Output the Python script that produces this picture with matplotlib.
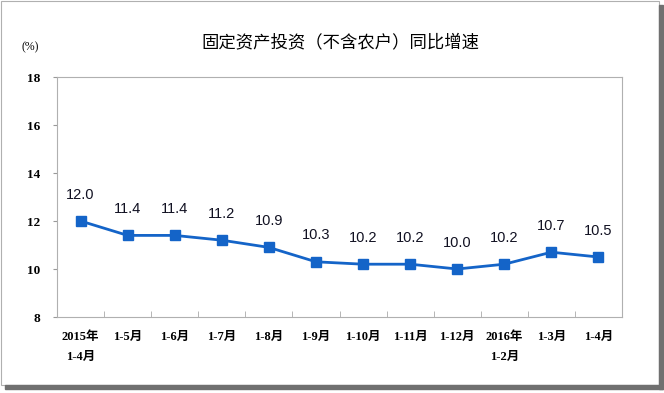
import matplotlib.pyplot as plt
from matplotlib.patches import Rectangle

plt.rcParams['font.family'] = ['Liberation Serif', 'Noto Sans CJK SC', 'DejaVu Sans']

# 数据
categories = ["2015年\n1-4月", "1-5月", "1-6月", "1-7月", "1-8月", "1-9月",
              "1-10月", "1-11月", "1-12月", "2016年\n1-2月", "1-3月", "1-4月"]
growth = [12.0, 11.4, 11.4, 11.2, 10.9, 10.3, 10.2, 10.2, 10.0, 10.2, 10.7, 10.5]
y_ticks = [8, 10, 12, 14, 16, 18]

fig = plt.figure(figsize=(6.64, 3.93), dpi=100)
ax = fig.add_axes([57 / 664, 1 - 317 / 393, 565 / 664, 240 / 393])

x = list(range(len(categories)))
ax.plot(x, growth, color="#1464c8", linewidth=2,
        marker="s", markersize=7, markerfacecolor="#1464c8",
        markeredgecolor="#1464c8")

for xi, v in zip(x, growth):
    ax.annotate(f"{v:.1f}", (xi, v), xytext=(0, 14), textcoords="offset points",
                ha="center", va="bottom", fontsize=10.5,
                family=["Liberation Sans"], color="#111122")

ax.set_xlim(-0.5, len(categories) - 0.5)
ax.set_ylim(8, 18)
ax.set_yticks(y_ticks)
ax.set_yticklabels([str(t) for t in y_ticks], fontsize=9.5, fontweight="bold")
ax.set_xticks(x)
ax.set_xticklabels(categories, fontsize=9, fontweight="bold",
                   linespacing=1.9, va="top")
ax.tick_params(axis="x", length=0, pad=10)
ax.tick_params(axis="y", length=3, color="#999999", pad=9, direction="out")

# 类别分隔刻度
ax.set_xticks([i - 0.5 for i in range(1, len(categories))], minor=True)
ax.tick_params(axis="x", which="minor", length=4, direction="in", color="#aaaaaa")

for s in ax.spines.values():
    s.set_color("#b0b0b0")
    s.set_linewidth(0.8)

fig.text(340 / 664, 1 - 42 / 393, "固定资产投资（不含农户）同比增速",
         ha="center", va="center", fontsize=12.5, family=["Noto Sans CJK SC"])
fig.text(30 / 664, 1 - 47 / 393, "(%)", ha="center", va="center", fontsize=8.5)

# 外框
fig.patches.append(Rectangle((1 / 664, 8 / 393), 658 / 664, 384 / 393,
                             transform=fig.transFigure, fill=False,
                             edgecolor="#b0b0b0", linewidth=0.8))
fig.patches.append(Rectangle((659 / 664, 4 / 393), 4 / 664, 384 / 393,
                             transform=fig.transFigure, color="#707070"))
fig.patches.append(Rectangle((5 / 664, 4 / 393), 658 / 664, 4 / 393,
                             transform=fig.transFigure, color="#707070"))

fig.savefig("out.png", dpi=100)
